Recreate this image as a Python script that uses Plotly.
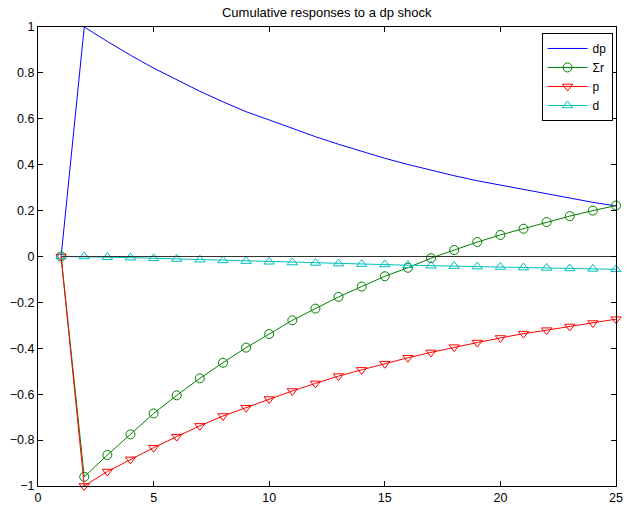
import plotly.graph_objects as go

# Horizon (periods) and cumulative responses to a dividend-price shock
periods = list(range(1, 26))

dp_resp = [0.0, 1.000, 0.937, 0.877, 0.821, 0.769, 0.720, 0.674, 0.631, 0.595,
           0.557, 0.522, 0.489, 0.457, 0.428, 0.401, 0.376, 0.352, 0.330, 0.311,
           0.290, 0.271, 0.253, 0.236, 0.220]

sum_r_resp = [0.0, -0.960, -0.865, -0.775, -0.684, -0.605, -0.531, -0.463, -0.397, -0.338,
              -0.278, -0.227, -0.176, -0.131, -0.086, -0.049, -0.007, 0.028, 0.063, 0.094,
              0.121, 0.150, 0.176, 0.200, 0.222]

p_resp = [0.0, -1.000, -0.937, -0.884, -0.833, -0.785, -0.738, -0.695, -0.659, -0.621,
          -0.586, -0.553, -0.521, -0.494, -0.467, -0.441, -0.418, -0.395, -0.375, -0.355,
          -0.336, -0.321, -0.305, -0.290, -0.273]

d_resp = [0.0, 0.0, -0.003, -0.005, -0.008, -0.011, -0.014, -0.017, -0.020, -0.023,
          -0.026, -0.028, -0.031, -0.033, -0.035, -0.038, -0.040, -0.042, -0.044, -0.046,
          -0.048, -0.050, -0.052, -0.054, -0.056]

zero_ref = [0.0] * len(periods)

x_ticks = [0, 5, 10, 15, 20, 25]
x_tick_labels = ["0", "5", "10", "15", "20", "25"]
y_ticks = [-1, -0.8, -0.6, -0.4, -0.2, 0, 0.2, 0.4, 0.6, 0.8, 1]
y_tick_labels = ["\u22121", "\u22120.8", "\u22120.6", "\u22120.4", "\u22120.2", "0",
                 "0.2", "0.4", "0.6", "0.8", "1"]

FONT = "Liberation Sans, Arial, Helvetica, sans-serif"
FS = 12.5

fig = go.Figure()

fig.add_trace(go.Scatter(
    x=periods, y=dp_resp, name="dp", mode="lines",
    line=dict(color="#0000ff", width=1), cliponaxis=False))
fig.add_trace(go.Scatter(
    x=periods, y=sum_r_resp, name="\u03a3r", mode="lines+markers",
    line=dict(color="#008000", width=1),
    marker=dict(symbol="circle-open", size=9, color="#008000", line=dict(width=1)),
    cliponaxis=False))
fig.add_trace(go.Scatter(
    x=periods, y=p_resp, name="p", mode="lines+markers",
    line=dict(color="#ff0000", width=1),
    marker=dict(symbol="triangle-down-open", size=9, color="#ff0000", line=dict(width=1)),
    cliponaxis=False))
fig.add_trace(go.Scatter(
    x=periods, y=d_resp, name="d", mode="lines+markers",
    line=dict(color="#00bfbf", width=1),
    marker=dict(symbol="triangle-up-open", size=9, color="#00bfbf", line=dict(width=1)),
    cliponaxis=False))
fig.add_trace(go.Scatter(
    x=periods, y=zero_ref, mode="lines", showlegend=False, hoverinfo="skip",
    line=dict(color="#333333", width=1.2)))

axis_common = dict(
    showline=True, linecolor="black", linewidth=1, mirror="ticks",
    ticks="inside", ticklen=5, tickcolor="black", tickwidth=1,
    showgrid=False, zeroline=False, automargin=False,
    tickfont=dict(family=FONT, size=FS, color="black"),
)

fig.update_xaxes(range=[0, 25], tickvals=x_ticks, ticktext=x_tick_labels,
                 ticklabeloverflow="allow", **axis_common)
fig.update_yaxes(range=[-1, 1], tickvals=y_ticks, ticktext=y_tick_labels,
                 ticklabeloverflow="allow", **axis_common)

fig.update_layout(
    width=626, height=505,
    margin=dict(l=38, r=10, t=27, b=19),
    paper_bgcolor="white", plot_bgcolor="white",
    font=dict(family=FONT, size=FS, color="black"),
    title=dict(text="Cumulative responses to a dp shock", x=0.522, xanchor="center",
               y=0.976, yanchor="middle", font=dict(family=FONT, size=13, color="black")),
    legend=dict(x=0.994, y=0.987, xanchor="right", yanchor="top",
                bgcolor="white", bordercolor="black", borderwidth=1,
                font=dict(family=FONT, size=12, color="black"),
                itemwidth=40, tracegroupgap=0),
    showlegend=True,
)

fig.write_html("out.html")
